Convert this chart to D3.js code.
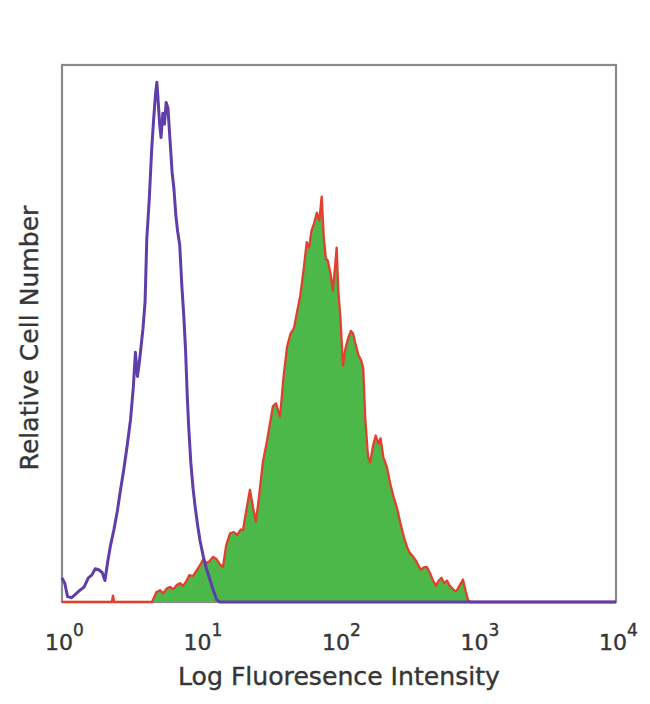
<!DOCTYPE html>
<html>
<head>
<meta charset="utf-8">
<script src="https://cdn.jsdelivr.net/npm/d3@7"></script>
<style>
  html, body { margin: 0; padding: 0; background: #fff; }
  svg { display: block; }
  text { font-family: "DejaVu Sans", "Open Sans", sans-serif; fill: #363636; }
</style>
</head>
<body>
<svg id="chart" width="650" height="704"></svg>
<script>
// ---- data (x as log10 of fluorescence intensity, y as relative cell count 0-100) ----
const decadeTicks = [1, 10, 100, 1000, 10000];
const tickExponents = ["0", "1", "2", "3", "4"];
const xTitle = "Log Fluoresence Intensity";
const yTitle = "Relative Cell Number";

// isotype control (purple outline)
const controlLogX = [0.000,0.020,0.040,0.070,0.100,0.130,0.160,0.190,0.215,0.240,0.265,0.290,0.310,0.330,0.350,0.375,0.400,0.420,0.445,0.470,0.495,0.515,0.530,0.545,0.560,0.585,0.600,0.612,0.630,0.648,0.662,0.675,0.685,0.695,0.705,0.715,0.728,0.740,0.752,0.765,0.780,0.795,0.808,0.822,0.835,0.850,0.865,0.880,0.892,0.905,0.915,0.930,0.945,0.960,0.978,0.996,1.020,1.045,1.070,1.095,1.117,1.140,4.000];
const controlCount = [4.5,3.5,1.0,0.8,1.5,2.2,2.8,4.5,5.0,6.2,6.0,5.5,4.0,7.5,10.5,13.5,17.0,20.5,24.5,29.0,34.0,40.0,46.5,42.0,45.0,51.0,56.0,67.5,75.0,84.5,90.0,94.5,96.8,93.0,89.0,86.5,91.0,89.0,93.0,92.0,86.0,80.0,77.0,72.0,69.0,66.5,59.0,53.0,47.0,38.0,32.5,26.0,21.5,18.0,14.5,11.5,8.5,6.0,4.0,2.0,0.4,0,0];

// stained sample (green fill, red outline)
const stainedLogX = [0.000,0.360,0.368,0.376,0.650,0.680,0.708,0.730,0.755,0.780,0.805,0.830,0.852,0.875,0.900,0.920,0.945,0.975,1.000,1.020,1.040,1.065,1.090,1.115,1.140,1.162,1.185,1.213,1.240,1.265,1.290,1.307,1.330,1.357,1.380,1.400,1.420,1.450,1.480,1.500,1.523,1.545,1.574,1.600,1.625,1.650,1.675,1.697,1.720,1.745,1.767,1.785,1.800,1.820,1.840,1.858,1.875,1.890,1.905,1.920,1.940,1.955,1.970,1.983,1.995,2.010,2.029,2.045,2.065,2.085,2.101,2.120,2.140,2.160,2.175,2.190,2.210,2.225,2.245,2.265,2.285,2.300,2.320,2.347,2.370,2.395,2.419,2.445,2.470,2.495,2.515,2.534,2.560,2.590,2.615,2.635,2.655,2.679,2.700,2.720,2.740,2.760,2.780,2.800,2.820,2.840,2.852,2.870,2.895,2.915,2.931,2.950,4.000];
const stainedCount = [0,0,1.2,0,0,1.8,2.2,1.6,2.5,2.8,2.4,3.2,3.5,3.0,4.0,5.0,4.8,6.0,7.0,8.0,7.2,7.6,8.4,8.0,7.0,6.5,10.5,12.8,13.0,12.5,13.5,13.4,17.0,20.9,17.5,15.0,19.0,26.0,30.0,33.0,36.5,37.0,34.5,42.0,47.5,50.0,51.0,54.0,57.0,62.0,67.0,66.0,69.0,70.5,72.5,71.0,75.5,68.0,64.0,63.5,61.0,58.0,62.0,66.0,58.0,53.0,44.0,47.0,49.0,50.5,50.0,48.0,46.0,45.0,43.5,34.0,27.0,26.0,29.0,31.0,29.5,30.5,27.0,25.0,22.0,19.5,17.5,14.5,12.0,10.0,9.0,8.5,7.5,6.0,6.5,6.5,5.5,4.0,3.0,4.0,4.5,3.5,4.0,3.0,2.5,2.0,2.2,3.0,4.2,2.0,0.4,0,0];

// ---- layout ----
const svg = d3.select("#chart");
const plot = { left: 62, right: 616, top: 65, bottom: 602 };

const x = d3.scaleLog().domain([1, 10000]).range([plot.left, plot.right]);
const y = d3.scaleLinear().domain([0, 100]).range([plot.bottom, plot.top]);

const control = controlLogX.map((v, i) => ({ x: Math.pow(10, v), y: controlCount[i] }));
const stained = stainedLogX.map((v, i) => ({ x: Math.pow(10, v), y: stainedCount[i] }));

// frame
svg.append("rect")
  .attr("x", plot.left).attr("y", plot.top)
  .attr("width", plot.right - plot.left).attr("height", plot.bottom - plot.top)
  .attr("fill", "none").attr("stroke", "#8a8a8a").attr("stroke-width", 2.2);

// stained: green area + red outline
svg.append("path")
  .datum(stained)
  .attr("fill", "#4cb84a")
  .attr("d", d3.area().x(d => x(d.x)).y0(y(0)).y1(d => y(d.y)));

svg.append("path")
  .datum(stained)
  .attr("fill", "none")
  .attr("stroke", "#e2402f")
  .attr("stroke-width", 2.3)
  .attr("stroke-linejoin", "round")
  .attr("d", d3.line().x(d => x(d.x)).y(d => y(d.y)));

// control: purple outline
svg.append("path")
  .datum(control)
  .attr("fill", "none")
  .attr("stroke", "#5f3ea9")
  .attr("stroke-width", 3)
  .attr("stroke-linejoin", "round")
  .attr("d", d3.line().x(d => x(d.x)).y(d => y(d.y)));

// x axis labels (10 with superscript exponent)
const xAxis = d3.axisBottom(x).tickValues(decadeTicks).tickSize(0).tickPadding(0).tickFormat(() => "");
const gx = svg.append("g").attr("transform", `translate(0,${plot.bottom})`).call(xAxis);
gx.select(".domain").remove();
gx.selectAll(".tick text").remove();
gx.selectAll(".tick").each(function(d, i) {
  const t = d3.select(this).append("text")
    .attr("x", 2)
    .attr("y", 48)
    .attr("text-anchor", "middle")
    .style("font-size", "22px")
    .style("stroke", "#363636").style("stroke-width", 0.4);
  t.append("tspan").text("10");
  t.append("tspan").attr("dy", -14).style("font-size", "17px").text(tickExponents[i]);
});

// axis titles, font size fitted to the reference's text extents
function fitText(sel, target) {
  const len = sel.node().getComputedTextLength();
  const fs = parseFloat(sel.style("font-size"));
  sel.style("font-size", (fs * target / len) + "px");
}

const xt = svg.append("text")
  .attr("x", 339).attr("y", 685)
  .attr("text-anchor", "middle")
  .style("font-size", "20px")
  .style("stroke", "#363636").style("stroke-width", 0.4)
  .text(xTitle);
fitText(xt, 322);

const yt = svg.append("text")
  .attr("transform", "translate(38,338) rotate(-90)")
  .attr("text-anchor", "middle")
  .style("font-size", "20px")
  .style("stroke", "#363636").style("stroke-width", 0.4)
  .text(yTitle);
fitText(yt, 265);
</script>
</body>
</html>
